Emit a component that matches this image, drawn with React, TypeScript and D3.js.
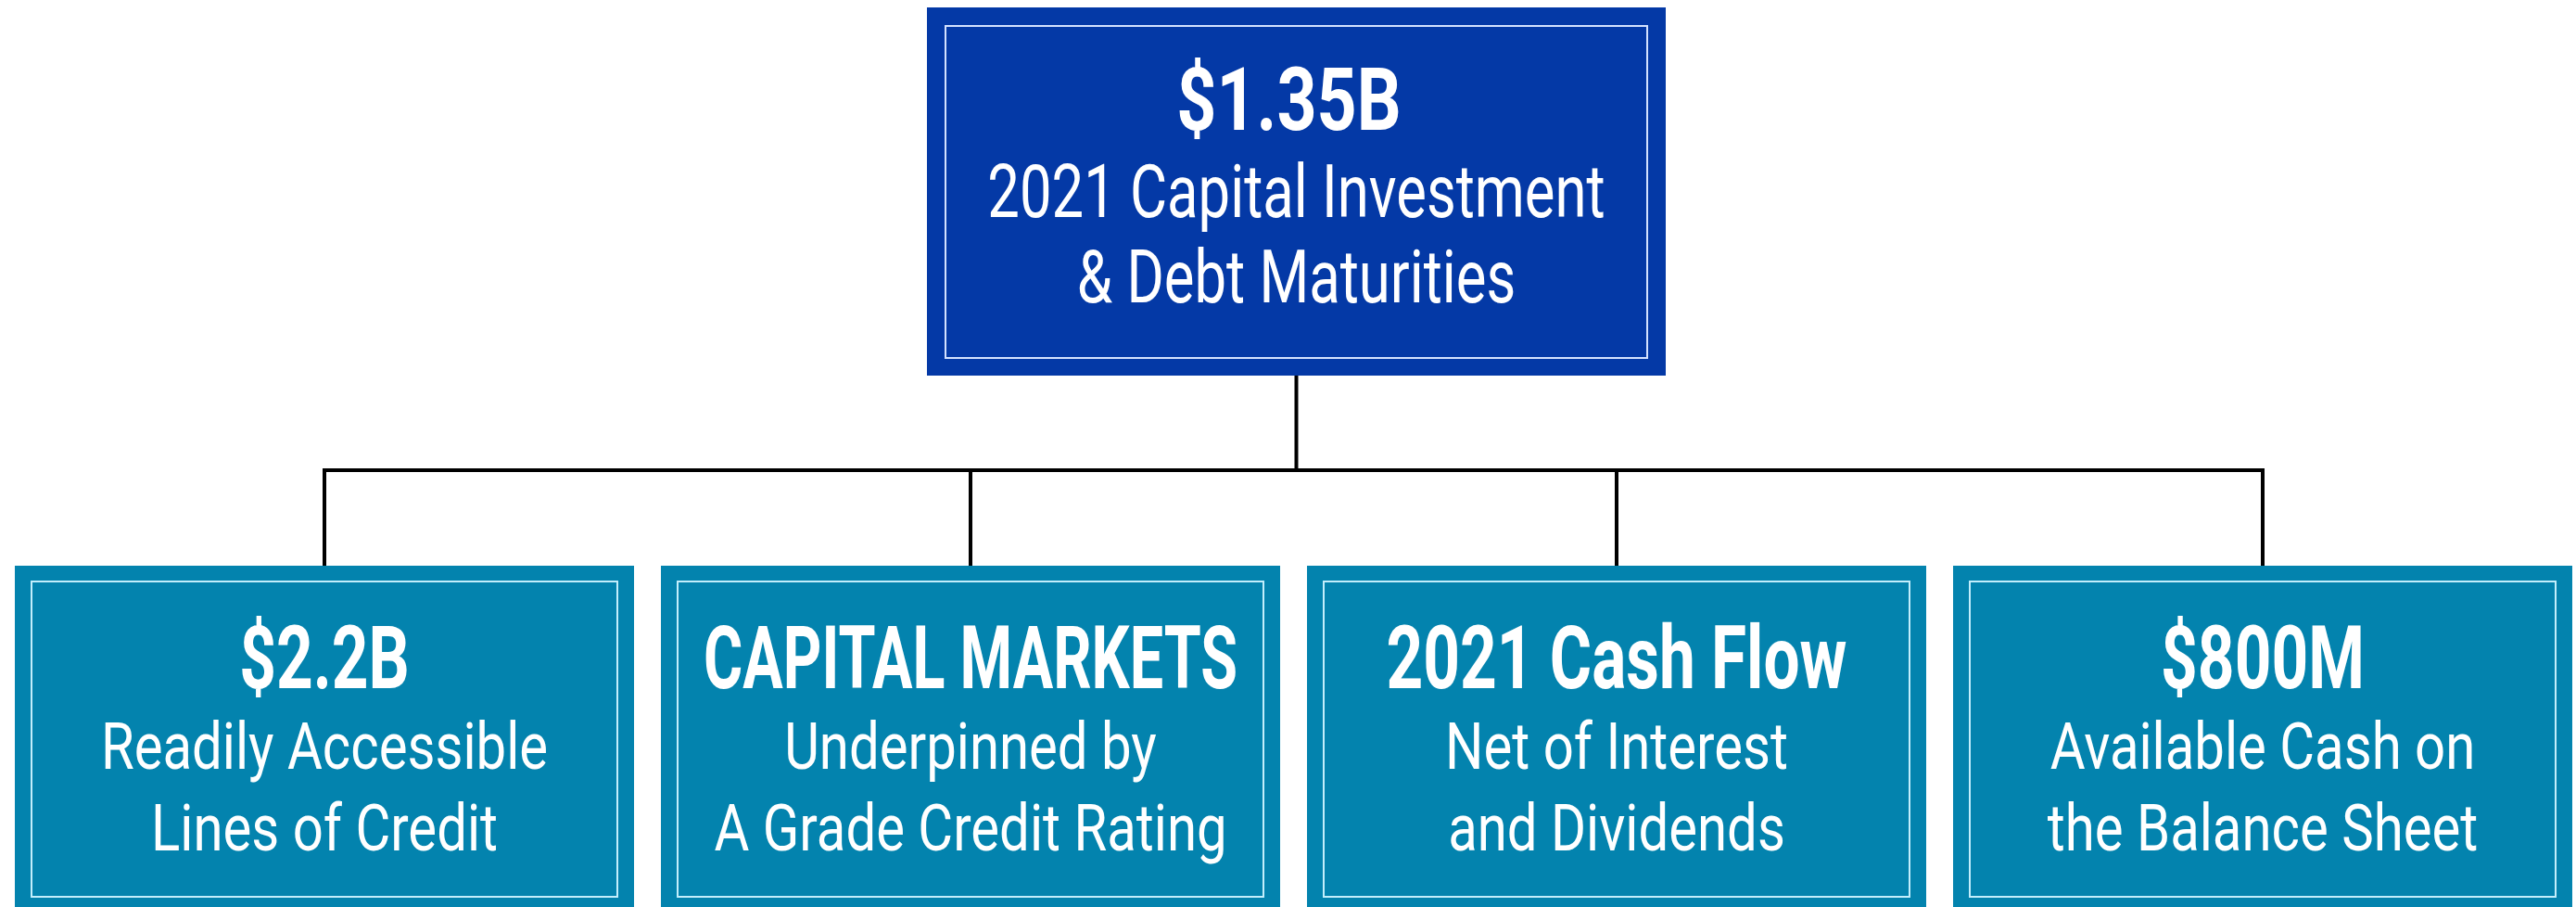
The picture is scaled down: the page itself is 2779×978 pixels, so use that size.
import React, { useEffect, useRef } from "react";
import * as d3 from "d3";

const width = 2779;
const height = 978;

// root node
const rootValue = "$1.35B";
const rootLines = ["2021 Capital Investment", "& Debt Maturities"];

// child nodes
const childKeys = ["credit", "markets", "cashflow", "cash"];
const childHeads = ["$2.2B", "CAPITAL MARKETS", "2021 Cash Flow", "$800M"];
const childLines = [
    ["Readily Accessible", "Lines of Credit"],
    ["Underpinned by", "A Grade Credit Rating"],
    ["Net of Interest", "and Dividends"],
    ["Available Cash on", "the Balance Sheet"]
];

const font = "Roboto, 'Noto Sans', sans-serif";
const rootFill = "#0439a6";
const rootRule = "#d4e2ff";
const childFill = "#0383ae";
const childRule = "#c2eefc";

export default function App() {
    const ref = useRef<SVGSVGElement>(null);

    useEffect(() => {
        const svg = d3.select(ref.current);
        svg.selectAll("*").remove();

        const x = d3.scaleBand<string>()
            .domain(childKeys)
            .range([16, 2775])
            .paddingInner(0.0416)
            .paddingOuter(0);

        const root = {x0: 1000, x1: 1797, y0: 8, y1: 405};
        const rootCx = (root.x0 + root.x1) / 2;
        const childTop = 610;
        const childBottom = 992;
        const busY = 507;

        // connectors
        const links = svg.append("g")
            .attr("fill", "none")
            .attr("stroke", "#000")
            .attr("stroke-width", 4);

        links.append("line")
            .attr("x1", rootCx).attr("x2", rootCx)
            .attr("y1", root.y1).attr("y2", busY);

        const cx = (k: string) => (x(k) as number) + x.bandwidth() / 2;

        links.append("line")
            .attr("x1", cx(childKeys[0]) - 2)
            .attr("x2", cx(childKeys[childKeys.length - 1]) + 2)
            .attr("y1", busY).attr("y2", busY);

        links.selectAll("line.drop")
            .data(childKeys)
            .join("line")
            .attr("class", "drop")
            .attr("x1", cx).attr("x2", cx)
            .attr("y1", busY).attr("y2", childTop);

        const fitted: {node: SVGTextElement, cx: number, y: number, squeeze: number, maxW: number}[] = [];

        const addText = (g: any, str: string, cxv: number, y: number, size: number, weight: number, squeeze: number, maxW: number) => {
            const t = g.append("text")
                .attr("text-anchor", "middle")
                .attr("font-family", font)
                .attr("font-size", size)
                .attr("font-weight", weight)
                .attr("fill", "#fff")
                .text(str);
            fitted.push({node: t.node(), cx: cxv, y, squeeze, maxW});
        };

        // root box
        const rg = svg.append("g");
        rg.append("rect")
            .attr("x", root.x0).attr("y", root.y0)
            .attr("width", root.x1 - root.x0).attr("height", root.y1 - root.y0)
            .attr("fill", rootFill);
        rg.append("rect")
            .attr("x", root.x0 + 20).attr("y", root.y0 + 20)
            .attr("width", root.x1 - root.x0 - 40).attr("height", root.y1 - root.y0 - 39)
            .attr("fill", "none")
            .attr("stroke", rootRule)
            .attr("stroke-width", 2);
        addText(rg, rootValue, rootCx - 8, 140, 94, 700, 0.8, 700);
        rootLines.forEach((l, i) => addText(rg, l, rootCx, 234 + i * 92, 80, 400, 0.77, 700));

        // child boxes
        const cg = svg.selectAll("g.child")
            .data(childKeys)
            .join("g")
            .attr("class", "child");

        cg.append("rect")
            .attr("x", d => x(d) as number).attr("y", childTop)
            .attr("width", x.bandwidth()).attr("height", childBottom - childTop)
            .attr("fill", childFill);
        cg.append("rect")
            .attr("x", d => (x(d) as number) + 18).attr("y", childTop + 17)
            .attr("width", x.bandwidth() - 36).attr("height", childBottom - childTop - 42)
            .attr("fill", "none")
            .attr("stroke", childRule)
            .attr("stroke-width", 2);

        cg.each(function (d, i) {
            const g = d3.select(this);
            const c = cx(d);
            const maxW = x.bandwidth() - 92;
            addText(g, childHeads[i], c, 742, 95, 700, 0.73, maxW);
            childLines[i].forEach((l, j) => addText(g, l, c, 829 + j * 88, 70, 400, 0.83, maxW));
        });

        const layout = () => {
            fitted.forEach(f => {
                const w = f.node.getComputedTextLength();
                const s = Math.min(f.squeeze, f.maxW / w);
                d3.select(f.node)
                    .attr("x", 0).attr("y", 0)
                    .attr("transform", `translate(${f.cx},${f.y}) scale(${s},1)`);
            });
        };
        layout();
        if ((document as any).fonts) (document as any).fonts.ready.then(layout);
    }, []);

    return (
        <svg
            ref={ref}
            width={width}
            height={height}
            style={{position: "absolute", left: 0, top: 0, background: "#fff"}}
        />
    );
}
